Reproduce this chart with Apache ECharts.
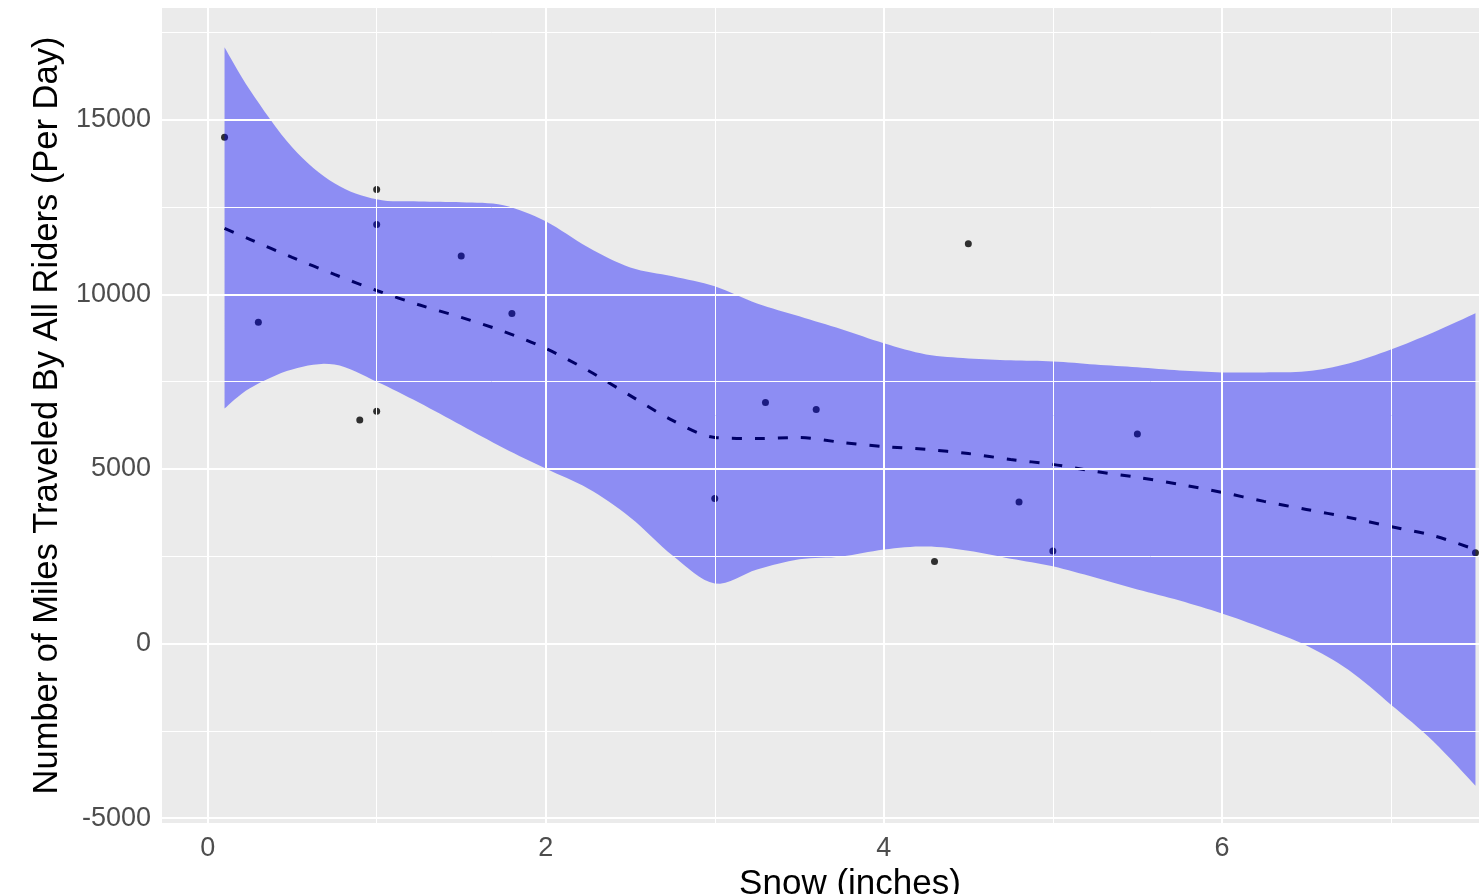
<!DOCTYPE html>
<html>
<head>
<meta charset="utf-8">
<script src="https://cdn.jsdelivr.net/npm/echarts@6/dist/echarts.min.js"></script>
<style>html,body{margin:0;padding:0;background:#fff;}#c{width:1479px;height:894px;}</style>
</head>
<body>
<div id="c"></div>
<script>
// Observations
var snowX = [0.1, 0.3, 0.9, 1.0, 1.0, 1.0, 1.5, 1.8, 3.0, 3.3, 3.6, 4.3, 4.5, 4.8, 5.0, 5.5, 7.5];
var miles = [14500, 9200, 6400, 13000, 12000, 6650, 11100, 9450, 4150, 6900, 6700, 2350, 11450, 4050, 2650, 6000, 2600];

// Smoothed fit and confidence band
var fitX = [0.1, 0.25, 0.5, 0.75, 1.0, 1.25, 1.5, 1.75, 2.0, 2.25, 2.5, 2.75, 3.0, 3.25, 3.5, 3.75, 4.0, 4.25, 4.5, 4.75, 5.0, 5.25, 5.5, 5.75, 6.0, 6.25, 6.5, 6.75, 7.0, 7.25, 7.5];
var fitY = [11890, 11575, 11060, 10570, 10110, 9700, 9340, 8940, 8450, 7820, 7100, 6390, 5900, 5870, 5900, 5760, 5640, 5560, 5440, 5270, 5130, 4930, 4760, 4560, 4330, 4070, 3840, 3610, 3350, 3090, 2690];
var upperY = [17075, 15850, 14210, 13180, 12720, 12660, 12635, 12550, 12090, 11345, 10770, 10515, 10230, 9740, 9370, 9000, 8600, 8280, 8165, 8110, 8080, 7990, 7910, 7820, 7765, 7765, 7795, 8020, 8420, 8910, 9455];
var lowerY = [6730, 7310, 7850, 7990, 7500, 6900, 6250, 5600, 5010, 4440, 3610, 2520, 1720, 2120, 2410, 2490, 2690, 2780, 2660, 2430, 2210, 1890, 1550, 1230, 860, 430, -60, -760, -1750, -2800, -4070];

// Axis ticks and grid lines
var xTicks = [0, 2, 4, 6];
var xMinor = [1, 3, 5, 7];
var yTicks = [-5000, 0, 5000, 10000, 15000];
var yMinor = [-2500, 2500, 7500, 12500, 17500];

var FONT = "'Liberation Sans', Arial, sans-serif";

function zip(a, b) { return a.map(function (v, i) { return [v, b[i]]; }); }

var gridLines = [];
xMinor.forEach(function (v) { gridLines.push({ xAxis: v, lineStyle: { width: 1 } }); });
yMinor.forEach(function (v) { gridLines.push({ yAxis: v, lineStyle: { width: 1 } }); });
xTicks.forEach(function (v) { gridLines.push({ xAxis: v, lineStyle: { width: 2 } }); });
yTicks.forEach(function (v) { gridLines.push({ yAxis: v, lineStyle: { width: 2 } }); });

// Catmull-Rom smoothing of pixel points that were mapped by the axes
function smoothPts(p) {
  var out = [p[0]], N = 8;
  for (var i = 0; i < p.length - 1; i++) {
    var p0 = p[i - 1] || p[i], p1 = p[i], p2 = p[i + 1], p3 = p[i + 2] || p[i + 1];
    var c1 = [p1[0] + (p2[0] - p0[0]) / 6, p1[1] + (p2[1] - p0[1]) / 6];
    var c2 = [p2[0] - (p3[0] - p1[0]) / 6, p2[1] - (p3[1] - p1[1]) / 6];
    for (var k = 1; k <= N; k++) {
      var t = k / N, u = 1 - t;
      var a = u * u * u, b = 3 * u * u * t, c = 3 * u * t * t, d = t * t * t;
      out.push([a * p1[0] + b * c1[0] + c * c2[0] + d * p2[0], a * p1[1] + b * c1[1] + c * c2[1] + d * p2[1]]);
    }
  }
  return out;
}

var chart = echarts.init(document.getElementById('c'), null, { renderer: 'canvas' });
chart.setOption({
  animation: false,
  backgroundColor: '#ffffff',
  grid: { left: 162, width: 1376, top: 8, bottom: 71, show: true, backgroundColor: '#EBEBEB', borderWidth: 0,
          containLabel: false, outerBoundsMode: 'none' },
  xAxis: {
    type: 'value', min: -0.27, max: 7.87,
    name: 'Snow (inches)', nameLocation: 'middle', nameGap: 40,
    nameTextStyle: { fontFamily: FONT, fontSize: 35, color: '#000' },
    axisLine: { show: false },
    axisTick: { show: true, length: 6, lineStyle: { color: '#333', width: 1.5 }, customValues: xTicks },
    axisLabel: { fontFamily: FONT, fontSize: 27, color: '#4D4D4D', margin: 12, customValues: xTicks,
                 formatter: function (v) { return String(v); } },
    splitLine: { show: false }
  },
  yAxis: {
    type: 'value', min: -5140, max: 18200,
    name: 'Number of Miles Traveled By All Riders (Per Day)', nameLocation: 'middle', nameGap: 77, nameRotate: 90,
    nameTextStyle: { fontFamily: FONT, fontSize: 34.5, color: '#000' },
    axisLine: { show: false },
    axisTick: { show: true, length: 6, lineStyle: { color: '#333', width: 1.5 }, customValues: yTicks },
    axisLabel: { fontFamily: FONT, fontSize: 27, color: '#4D4D4D', margin: 11, customValues: yTicks,
                 formatter: function (v) { return String(v); } },
    splitLine: { show: false }
  },
  series: [
    {
      type: 'line', data: [], z: 1, silent: true,
      markLine: { silent: true, symbol: 'none', label: { show: false }, animation: false,
        lineStyle: { color: '#ffffff', type: 'solid' }, emphasis: { disabled: true }, data: gridLines }
    },
    {
      type: 'scatter', data: zip(snowX, miles), z: 2, symbol: 'circle', symbolSize: 7,
      itemStyle: { color: '#000' }, silent: true
    },
    {
      type: 'line', data: zip(fitX, fitY), z: 3, symbol: 'none', smooth: 0.3, silent: true,
      lineStyle: { color: '#000', width: 3, type: [10, 13] }
    },
    {
      type: 'custom', z: 4, silent: true, data: [0],
      renderItem: function (params, api) {
        var up = smoothPts(fitX.map(function (x, i) { return api.coord([x, upperY[i]]); }));
        var lo = smoothPts(fitX.map(function (x, i) { return api.coord([x, lowerY[i]]); }).reverse());
        return {
          type: 'polygon',
          shape: { points: up.concat(lo) },
          style: { fill: 'rgba(0,0,255,0.4)', stroke: null }
        };
      }
    }
  ]
});
</script>
</body>
</html>
